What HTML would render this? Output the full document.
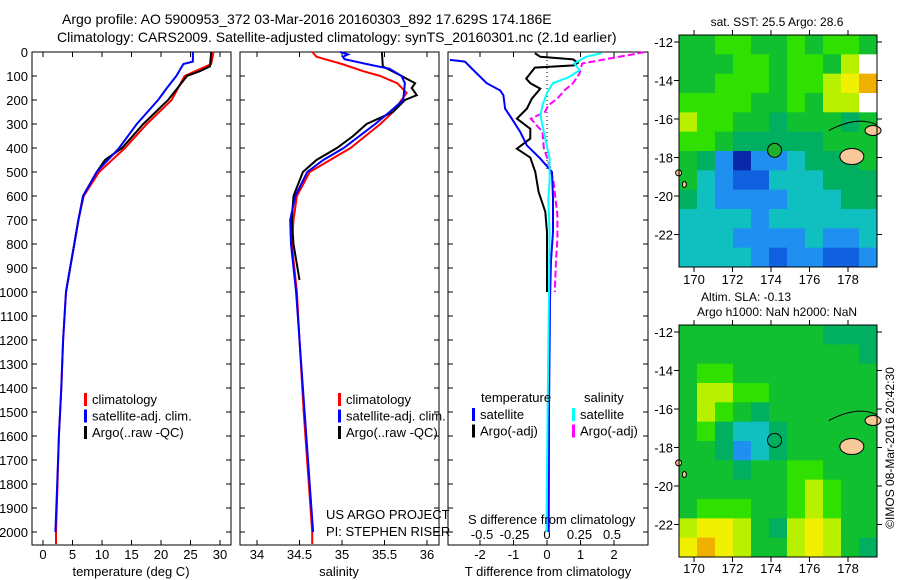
<!DOCTYPE html>
<html><head><meta charset="utf-8">
<style>
body{margin:0;background:#fff;}
svg{display:block;font-family:"Liberation Sans",sans-serif;}
text{fill:#000;}
</style></head>
<body>
<svg id="fig" width="900" height="580" viewBox="0 0 900 580">
<text x="62" y="24" font-size="14">Argo profile: AO 5900953_372 03-Mar-2016 20160303_892 17.629S 174.186E</text>
<text x="57" y="42" font-size="14">Climatology: CARS2009. Satellite-adjusted climatology: synTS_20160301.nc (2.1d earlier)</text>
<g id="g1"></g>
<g id="g2"></g>
<g id="g3"></g>
<g id="m1"></g>
<g id="m2"></g>
</svg>
<script>
// ---------- data ----------
const depthTicks=[0,100,200,300,400,500,600,700,800,900,1000,1100,1200,1300,1400,1500,1600,1700,1800,1900,2000];
const tTicks=[0,5,10,15,20,25,30];
const sTicks=[34,34.5,35,35.5,36];
const sTickLabels=["34","34.5","35","35.5","36"];
const dTTicks=[-2,-1,0,1,2];
const dSTicks=[-0.5,-0.25,0,0.25,0.5];
const dSTickLabels=["-0.5","-0.25","0","0.25","0.5"];

const tDepthClim=[0,50,100,200,300,400,500,600,700,800,900,1000,1200,1400,1600,1800,2000,2050];
const tClim=[28.9,28.5,24.0,21.8,17.6,13.9,9.5,6.9,6.0,5.3,4.6,3.9,3.4,3.1,2.7,2.45,2.2,2.2];
const tDepthSat=[0,40,50,100,150,200,300,400,500,600,700,800,900,1000,1200,1400,1600,1800,2000];
const tSat=[25.4,25.4,23.8,22.6,21.0,19.5,15.9,12.9,9.1,6.8,6.0,5.3,4.6,3.9,3.4,3.1,2.7,2.4,2.1];
const tDepthArgo=[0,60,80,100,200,300,400,450,500,600,700,800,900,1000];
const tArgo=[28.5,28.3,26.6,24.4,21.2,17.0,13.4,10.5,9.1,6.8,6.0,5.3,4.6,3.9];

const sDepthClim=[0,20,50,80,100,130,170,250,300,400,450,500,600,700,800,1000,1200,1500,2000,2050];
const sClim=[34.65,34.7,35.0,35.25,35.45,35.65,35.76,35.6,35.45,35.1,34.86,34.62,34.47,34.43,34.41,34.47,34.5,34.55,34.65,34.65];
const sDepthSat=[0,10,20,30,50,70,100,130,200,250,300,400,450,500,600,700,800,1000,1200,1500,2000];
const sSat=[34.98,35.07,35.01,35.03,35.29,35.56,35.7,35.74,35.72,35.56,35.39,35.02,34.78,34.59,34.45,34.39,34.4,34.46,34.5,34.56,34.66];
const sDepthArgo=[0,60,100,130,150,180,200,250,300,350,400,450,500,600,700,800,950];
const sArgo=[35.47,35.48,35.7,35.86,35.82,35.88,35.74,35.6,35.29,35.13,34.94,34.7,34.54,34.43,34.41,34.43,34.5];

const dtDepthSat=[33,40,75,130,160,180,236,278,333,389,444,500,611,750,870,1033,1500,2000];
const dtSat=[-2.9,-2.45,-2.2,-1.8,-1.4,-1.3,-1.25,-1.05,-0.8,-0.6,-0.2,0.15,0.18,0.18,0.12,0.09,0.06,0.05];
const dtDepthArgo=[5,20,31,45,56,65,111,130,153,194,236,278,320,361,403,440,500,583,666,750,850,1000];
const dtArgo=[-0.36,-0.2,0.78,0.92,0.8,-0.36,-0.62,-0.5,-0.2,-0.45,-0.6,-0.9,-0.5,-0.5,-0.9,-0.5,-0.35,-0.25,-0.05,0,0,0];
const dsDepthSat=[5,20,48,76,104,130,170,222,264,333,444,540,611,750,1000,1500,2000];
const dsSat=[0.42,0.3,0.21,0.25,0.17,0.045,0,-0.035,-0.05,-0.025,0.02,0.02,0.01,0.02,0.015,0.005,-0.005];
const dsDepthArgo=[1,48,90,130,160,194,222,250,278,333,400,472,540,680,780,860,1000];
const dsArgo=[0.75,0.27,0.25,0.2,0.135,0.08,0.01,-0.015,-0.125,-0.035,-0.025,0.02,0.05,0.08,0.08,0.07,0.06];

const lonTicks=[170,172,174,176,178];
const latTicks=[-12,-14,-16,-18,-20,-22];
const sstGrid=[
[6,6,7,7,6,6,7,6,7,7,6],
[6,6,6,7,7,6,7,7,6,8,-1],
[6,6,7,7,7,6,7,7,8,9,10],
[7,7,7,7,6,6,7,6,8,8,-1],
[8,7,7,6,6,5,6,6,6,5,6],
[7,7,6,5,5,5,5,5,6,6,6],
[6,5,3,1,3,3,4,5,5,5,6],
[6,4,3,2,2,4,4,4,5,5,5],
[5,4,3,3,3,3,4,4,4,5,5],
[4,4,4,4,3,4,4,4,4,4,4],
[4,4,4,3,3,3,3,4,3,3,4],
[4,4,4,4,3,2,3,3,2,2,3]];
const slaGrid=[
[6,6,6,6,6,6,6,6,5,5,5],
[6,6,6,6,6,6,6,6,6,6,5],
[6,7,7,6,6,6,6,6,6,6,6],
[6,8,8,7,7,6,6,6,6,6,6],
[6,8,7,6,5,6,6,6,6,6,6],
[6,7,5,4,4,5,6,6,6,6,6],
[6,6,5,3,4,5,6,6,6,6,6],
[6,6,6,5,6,6,7,7,6,6,6],
[6,6,6,6,6,6,7,8,7,6,6],
[6,7,7,7,6,6,7,8,7,6,6],
[8,9,9,8,6,5,8,9,8,6,6],
[9,10,9,8,6,6,8,9,8,6,5]];
const argoLon=174.186, argoLat=-17.629;

// ---------- helpers ----------
const NS="http://www.w3.org/2000/svg";
function mk(parent,tag,attrs,txt){const e=document.createElementNS(NS,tag);for(const k in attrs)e.setAttribute(k,attrs[k]);if(txt!==undefined)e.textContent=txt;parent.appendChild(e);return e;}
const TOP=52,BOT=545;
const yD=d=>TOP+d*0.24;
const xT=t=>43+t*5.9;
const xS=s=>257+(s-34)*85;
const xDT=v=>547+v*33.5;
const xDS=v=>547+v*130;

function panel(g,x0,x1){
  const r=mk(g,'rect',{x:x0,y:TOP,width:x1-x0,height:BOT-TOP,fill:'none',stroke:'#000','stroke-width':1});
  
}
function line(g,xs,ds,fx,color,name,dash,clipx){
  const pts=xs.map((v,i)=>{let x=fx(v);if(clipx)x=Math.min(Math.max(x,clipx[0]),clipx[1]);return x.toFixed(1)+','+yD(ds[i]).toFixed(1);}).join(' ');
  const p=mk(g,'polyline',{points:pts,fill:'none',stroke:color,'stroke-width':2});
  if(dash)p.setAttribute('stroke-dasharray',dash);
  
  
}
function xticks(g,ticks,labels,fx,ly){
  ticks.forEach((t,i)=>{const x=fx(t);
    mk(g,'line',{x1:x,x2:x,y1:BOT,y2:BOT-5,stroke:'#000'});
    mk(g,'line',{x1:x,x2:x,y1:TOP,y2:TOP+5,stroke:'#000'});
    const tx=mk(g,'text',{x:x,y:ly,'font-size':13,'text-anchor':'middle'},labels[i]);
    
  });
}
function legend(g,x,y,items){
  items.forEach((it,i)=>{
    mk(g,'rect',{x:x,y:y+i*16.5-11,width:3,height:13,fill:it[1]});
    const t=mk(g,'text',{x:x+8,y:y+i*16.5,'font-size':13},it[0]);
    
  });
}

// ---------- panel 1 ----------
const g1=document.getElementById('g1');
panel(g1,32,231);
depthTicks.forEach(d=>{const y=yD(d);
  mk(g1,'line',{x1:32,x2:37,y1:y,y2:y,stroke:'#000'});
  mk(g1,'line',{x1:231,x2:226,y1:y,y2:y,stroke:'#000'});
  const t=mk(g1,'text',{x:28,y:y+5,'font-size':13,'text-anchor':'end'},String(d));
  
});
xticks(g1,tTicks,tTicks.map(String),xT,559);
line(g1,tClim,tDepthClim,xT,'#f00','temperature-climatology-line');
line(g1,tArgo,tDepthArgo,xT,'#000','temperature-argo-line');
line(g1,tSat,tDepthSat,xT,'#00f','temperature-satellite-line');
legend(g1,84,404,[['climatology','#f00'],['satellite-adj. clim.','#00f'],['Argo(..raw -QC)','#000']]);
mk(g1,'text',{x:131,y:576,'font-size':13,'text-anchor':'middle',},'temperature (deg C)');

// ---------- panel 2 ----------
const g2=document.getElementById('g2');
panel(g2,240,439);
depthTicks.forEach(d=>{const y=yD(d);
  mk(g2,'line',{x1:240,x2:245,y1:y,y2:y,stroke:'#000'});
  mk(g2,'line',{x1:439,x2:434,y1:y,y2:y,stroke:'#000'});
});
xticks(g2,sTicks,sTickLabels,xS,559);
line(g2,sClim,sDepthClim,xS,'#f00','salinity-climatology-line');
line(g2,sArgo,sDepthArgo,xS,'#000','salinity-argo-line');
line(g2,sSat,sDepthSat,xS,'#00f','salinity-satellite-line');
legend(g2,338,404,[['climatology','#f00'],['satellite-adj. clim.','#00f'],['Argo(..raw -QC)','#000']]);
mk(g2,'text',{x:326,y:519,'font-size':13,},'US ARGO PROJECT');
mk(g2,'text',{x:326,y:536,'font-size':13,},'PI: STEPHEN RISER');
mk(g2,'text',{x:339,y:576,'font-size':13,'text-anchor':'middle',},'salinity');

// ---------- panel 3 ----------
const g3=document.getElementById('g3');
panel(g3,448,648);
depthTicks.forEach(d=>{const y=yD(d);
  mk(g3,'line',{x1:448,x2:453,y1:y,y2:y,stroke:'#000'});
  mk(g3,'line',{x1:648,x2:643,y1:y,y2:y,stroke:'#000'});
});
xticks(g3,dTTicks,dTTicks.map(String),xDT,559);
dSTicks.forEach((t,i)=>{const tx=mk(g3,'text',{x:xDS(t),y:539,'font-size':13,'text-anchor':'middle'},dSTickLabels[i]);
  });
mk(g3,'line',{x1:547,x2:547,y1:TOP,y2:yD(500),stroke:'#000','stroke-dasharray':'1,3'});
const cl=[449,647];
line(g3,dtArgo,dtDepthArgo,xDT,'#000','t-diff-argo-line',null,cl);
line(g3,dsArgo,dsDepthArgo,xDS,'#f0f','s-diff-argo-line','7,3',cl);
line(g3,dtSat,dtDepthSat,xDT,'#00f','t-diff-satellite-line',null,cl);
line(g3,dsSat,dsDepthSat,xDS,'#0ff','s-diff-satellite-line',null,cl);
mk(g3,'text',{x:481,y:402,'font-size':13,},'temperature');
mk(g3,'text',{x:584,y:402,'font-size':13,},'salinity');
legend(g3,472,419,[['satellite','#00f'],['Argo(-adj)','#000']]);
legend(g3,572,419,[['satellite','#0ff'],['Argo(-adj)','#f0f']]);
mk(g3,'text',{x:468,y:524,'font-size':13,},'S difference from climatology');
mk(g3,'text',{x:548,y:576,'font-size':13,'text-anchor':'middle',},'T difference from climatology');

// ---------- maps ----------
const pal=['#000080','#0828a8','#1060e0','#2090f0','#10c0c0','#00b060','#10c030','#30e000','#b8f000','#f0f000','#f0b000'];
function drawMap(g,grid,top,bottom,filled,lat12y,lbly){
  const L=679,R=877,W=R-L,H=bottom-top;
  const lonX=lon=>694+(lon-170)*19.25;
  const latY=lat=>lat12y+(-12-lat)*19.25;
  const rows=grid.length,cols=grid[0].length,cw=W/cols,ch=H/rows;
  grid.forEach((row,r)=>row.forEach((v,c)=>{
    const cell=mk(g,'rect',{x:L+c*cw,y:top+r*ch,width:cw+0.5,height:ch+0.5,fill:v<0?'#fff':pal[v]});
    
    
  }));
  mk(g,'ellipse',{cx:lonX(178.2),cy:latY(-17.95),rx:12,ry:8,fill:'#f8c898',stroke:'#000','stroke-width':1,});
  mk(g,'ellipse',{cx:lonX(179.3),cy:latY(-16.6),rx:8,ry:5,fill:'#f8c898',stroke:'#000','stroke-width':1,});
  mk(g,'path',{d:`M${lonX(177)} ${latY(-16.6)} Q${lonX(178.5)} ${latY(-15.8)} ${R} ${latY(-16.3)}`,fill:'none',stroke:'#000','stroke-width':1});
  mk(g,'ellipse',{cx:lonX(169.2),cy:latY(-18.8),rx:3,ry:3,fill:'#f8c898',stroke:'#000'});
  mk(g,'ellipse',{cx:lonX(169.5),cy:latY(-19.4),rx:2,ry:3,fill:'#f8c898',stroke:'#000'});
  mk(g,'circle',{cx:lonX(argoLon),cy:latY(argoLat),r:7,fill:filled?'#20b030':'none',stroke:'#000','stroke-width':1,});
  mk(g,'rect',{x:L,y:top,width:W,height:H,fill:'none',stroke:'#000',});
  lonTicks.forEach(lon=>{const x=lonX(lon);
    mk(g,'line',{x1:x,x2:x,y1:top,y2:top-5,stroke:'#000'});
    mk(g,'line',{x1:x,x2:x,y1:bottom,y2:bottom+5,stroke:'#000'});
    const t=mk(g,'text',{x:x,y:lbly,'font-size':13,'text-anchor':'middle'},String(lon));
    
  });
  latTicks.forEach(lat=>{const y=latY(lat);
    mk(g,'line',{x1:L,x2:L-5,y1:y,y2:y,stroke:'#000'});
    mk(g,'line',{x1:R,x2:R+5,y1:y,y2:y,stroke:'#000'});
    const t=mk(g,'text',{x:673,y:y+5,'font-size':13,'text-anchor':'end'},String(lat));
    
  });
}
const m1=document.getElementById('m1'),m2=document.getElementById('m2');
drawMap(m1,sstGrid,35,267,true,42,284);
drawMap(m2,slaGrid,325,557,false,332,573);
mk(m1,'text',{x:777,y:26,'font-size':12,'text-anchor':'middle',},'sat. SST: 25.5 Argo: 28.6');
mk(m2,'text',{x:746,y:301,'font-size':12,'text-anchor':'middle',},'Altim. SLA: -0.13');
mk(m2,'text',{x:777,y:316,'font-size':12,'text-anchor':'middle',},'Argo h1000: NaN h2000: NaN');
mk(m2,'text',{x:0,y:0,'font-size':12,'text-anchor':'middle',transform:'translate(894,448) rotate(-90)',},'©IMOS 08-Mar-2016 20:42:30');
</script>
</body></html>
